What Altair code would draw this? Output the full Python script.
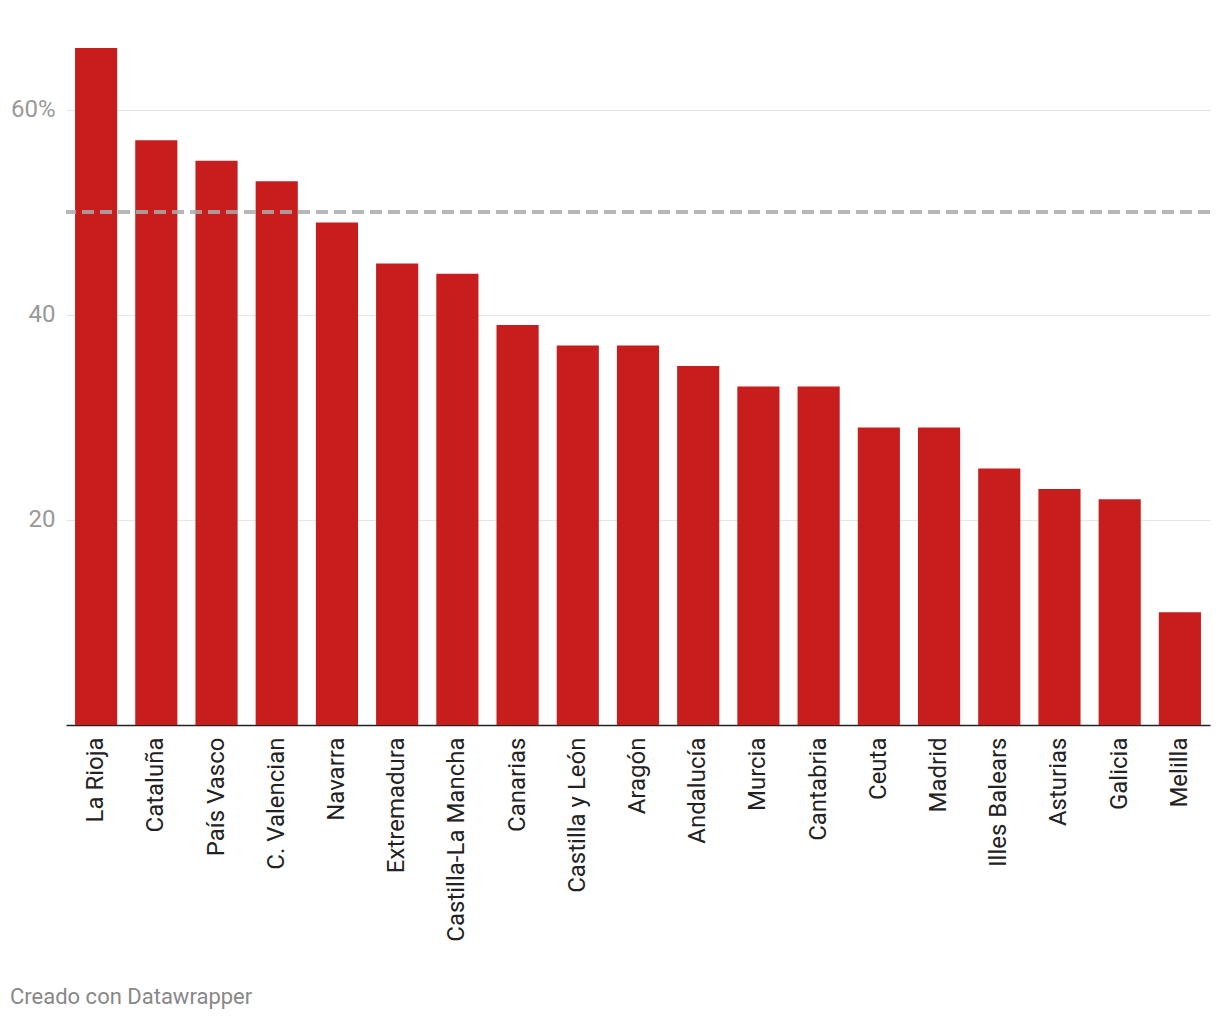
import altair as alt
import pandas as pd

regions = ["La Rioja", "Cataluña", "País Vasco", "C. Valencian", "Navarra", "Extremadura",
           "Castilla-La Mancha", "Canarias", "Castilla y León", "Aragón", "Andalucía", "Murcia",
           "Cantabria", "Ceuta", "Madrid", "Illes Balears", "Asturias", "Galicia", "Melilla"]
values = [66, 57, 55, 53, 49, 45, 44, 39, 37, 37, 35, 33, 33, 29, 29, 25, 23, 22, 11]
reference_line = [50]
y_ticks = [0, 20, 40, 60]
footer = ["Creado con Datawrapper"]

df = pd.DataFrame({"region": regions, "value": values})
ref = pd.DataFrame({"ref": reference_line})
foot = pd.DataFrame({"text": footer})

W, H = 1144, 677
FONT = "Roboto"

x = alt.X("region:N", sort=regions, title=None,
          scale=alt.Scale(paddingInner=0.3, paddingOuter=0.15),
          axis=alt.Axis(labelAngle=-90, labelAlign="right", labelBaseline="middle",
                        labelPadding=12, labelFontSize=24, labelFont=FONT, labelColor="#222",
                        labelLimit=0, ticks=False, domainColor="#222", domainWidth=1.5, grid=False))
y = alt.Y("value:Q", title=None,
          scale=alt.Scale(domain=[0, 66], nice=False),
          axis=alt.Axis(values=y_ticks, labelExpr="datum.value == 60 ? '60%' : (datum.value == 0 ? '' : datum.label)",
                        labelFontSize=24, labelFont=FONT, labelColor="#999", labelPadding=11,
                        ticks=False, domain=False, grid=True, gridColor="#e6e6e6", gridWidth=1))

bars = alt.Chart(df).mark_bar(color="#c71e1d").encode(x=x, y=y)

rule = alt.Chart(ref).mark_rule(color="#aaaaaa", strokeWidth=4, strokeDash=[12, 6], opacity=0.85).encode(
    y=alt.Y("ref:Q", scale=alt.Scale(domain=[0, 66], nice=False))
)

footer_text = alt.Chart(foot).mark_text(align="left", baseline="middle", font=FONT, fontSize=22,
                                        color="#888").encode(
    text="text:N", x=alt.value(-56), y=alt.value(949)
)

chart = alt.layer(bars, rule, footer_text).properties(
    width=W, height=H,
    autosize=alt.AutoSizeParams(type="none"),
    padding={"left": 58, "top": 40, "right": 2, "bottom": 287},
).configure(background="white").configure_view(stroke=None, strokeWidth=0)

chart.save("out.html", embed_options={"renderer": "svg", "actions": False})
